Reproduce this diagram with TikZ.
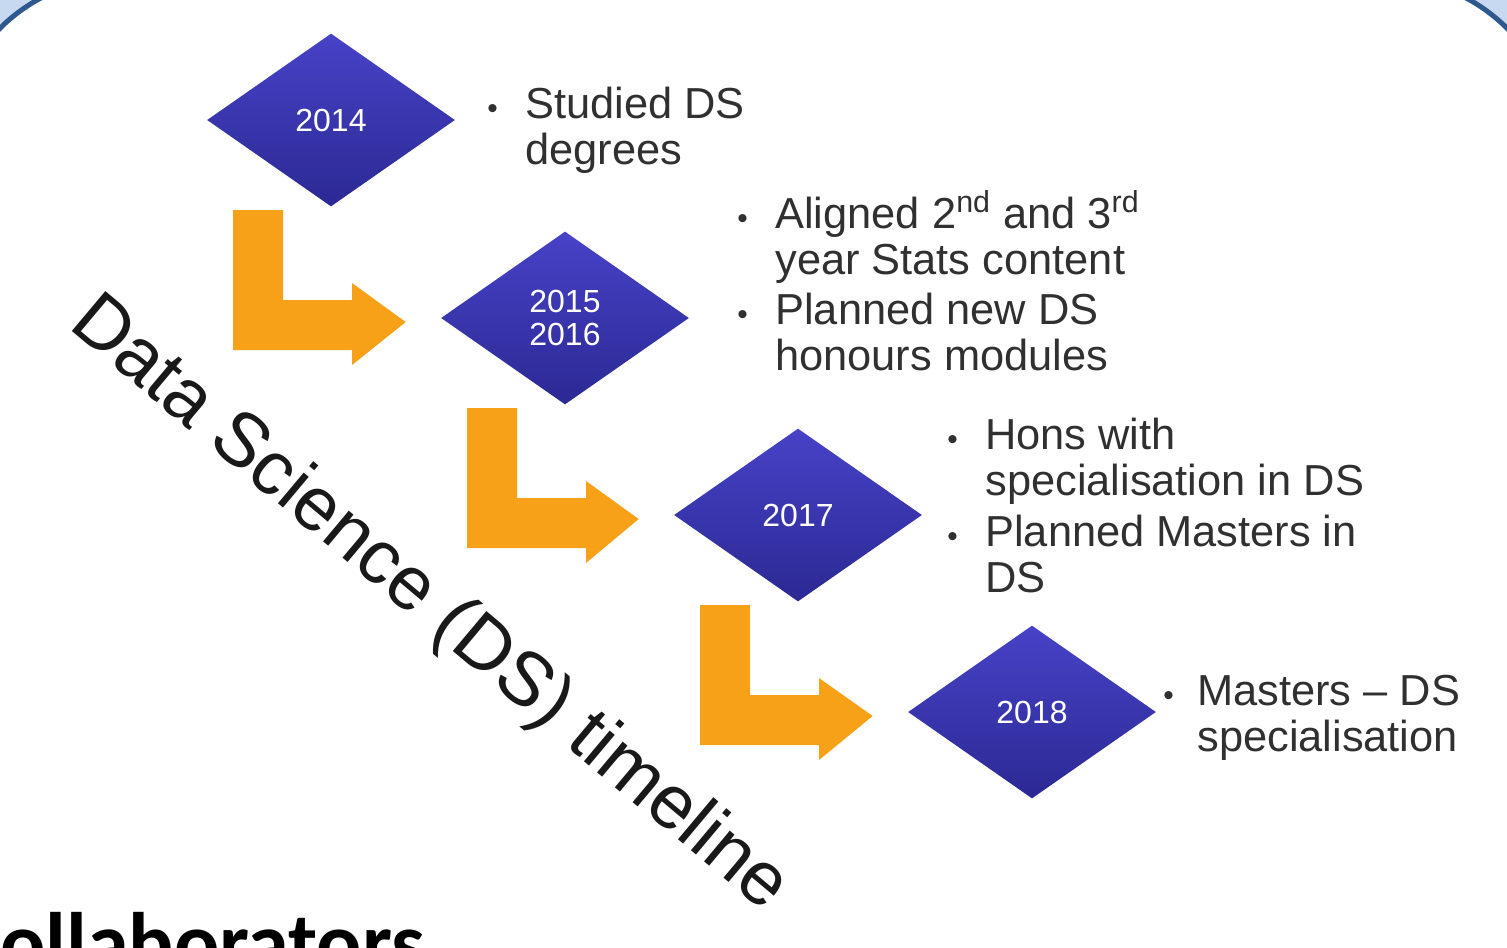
\documentclass[tikz,border=0pt]{standalone}
\usepackage{fontspec}
\setmainfont{Liberation Sans}
\newfontfamily\collabfont{Carlito}
\usetikzlibrary{shapes.geometric, calc}
\definecolor{dsnavy}{rgb}{0.17, 0.16, 0.58}
\definecolor{dsnavylight}{rgb}{0.28, 0.26, 0.78}
\definecolor{dsorange}{rgb}{0.97, 0.63, 0.10}
\definecolor{dsgrey}{rgb}{0.19, 0.19, 0.19}
\definecolor{framedark}{rgb}{0.18, 0.35, 0.56}
\definecolor{framelight}{rgb}{0.78, 0.85, 0.94}

\tikzset{
  year/.style={shape=diamond, minimum width=4.96cm, minimum height=3.46cm, inner sep=0pt,
    top color=dsnavylight, bottom color=dsnavy, text=white, align=center,
    font=\fontsize{18.2}{18.8}\selectfont},
  item/.style={anchor=base west, inner sep=0pt, text=dsgrey,
    font=\fontsize{24.7}{26.2}\selectfont},
  steparrow/.style={fill=dsorange},
}
\newcommand{\bitem}[2]{\begin{tabular}[t]{@{}p{#1}@{}l@{}}{\fontsize{17}{17}\selectfont\textbullet} & #2\end{tabular}}

\begin{document}
\begin{tikzpicture}[x=0.02cm, y=-0.02cm]
        \useasboundingbox (0,0) rectangle (1507,947);
        \clip (0,0) rectangle (1507,947);
        % frame corners
        \fill[framelight] (0,0) rectangle (1507,947);
        \draw[framedark, line width=0.1cm, fill=white, rounded corners=3.44cm] (-50.5,-22) rectangle (1557.5,1400);

        \node[year] (d1) at (331, 120) {2014};
        \node[year] (d2) at (565, 318) {2015\\2016};
        \node[year] (d3) at (798, 515) {2017};
        \node[year] (d4) at (1032, 712) {2018};

        \foreach \a/\b in {d1/d2, d2/d3, d3/d4}
            \fill[steparrow] ($(\a)+(-98,90)$) -- ($(\a)+(-48,90)$) -- ($(\a)+(-48,180)$) -- ($(\a)+(21,180)$)
                -- ($(\a)+(21,163)$) -- ($(\b.west)+(-35,4)$) -- ($(\a)+(21,245)$) -- ($(\a)+(21,230)$)
                -- ($(\a)+(-98,230)$) -- cycle;

        \node[item] (t1) at (487, 118) {\bitem{0.76cm}{Studied DS\\ & degrees}};
        \node[item] (t2) at (737, 228) {\bitem{0.76cm}{Aligned 2\textsuperscript{nd} and 3\textsuperscript{rd}\\ & year Stats content}};
        \node[item] (t3) at (737, 324) {\bitem{0.76cm}{Planned new DS\\ & honours modules}};
        \node[item] (t4) at (947, 449) {\bitem{0.76cm}{Hons with\\ & specialisation in DS}};
        \node[item] (t5) at (947, 546) {\bitem{0.76cm}{Planned Masters in\\ & DS}};
        \node[item] (t6) at (1163, 705) {\bitem{0.68cm}{Masters -- DS\\ & specialisation}};

        \node[rotate=-40, anchor=base west, inner sep=0pt, text=black!90,
            font=\fontsize{43.2}{43.2}\selectfont] (title) at (67, 327) {Data Science (DS) timeline};

        \node[anchor=base west, inner sep=0pt, font=\collabfont\bfseries\fontsize{48}{48}\selectfont] (collab) at (0, 971) {ollaborators};
    \end{tikzpicture}
\end{document}
